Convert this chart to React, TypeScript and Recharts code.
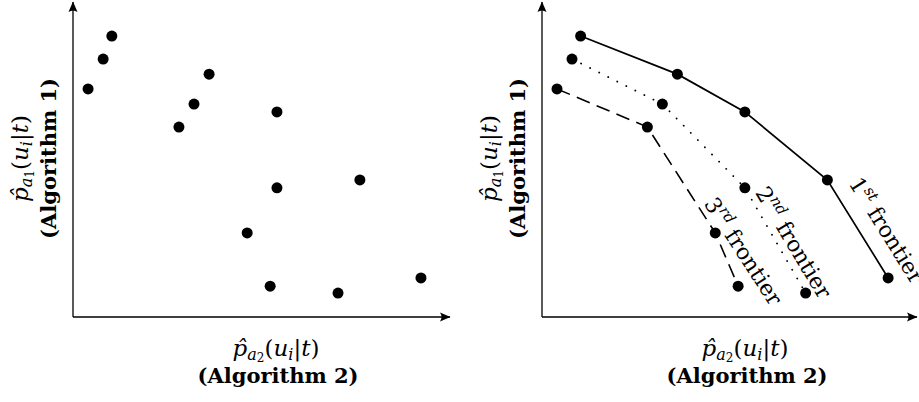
import { Label, LabelList, Scatter, ScatterChart, XAxis, YAxis } from "recharts";

// values, as % of each axis (0,0 = corner of the axes)
const firstFrontier = [
  { x: 10.3, y: 89.2 },
  { x: 36.1, y: 77.1 },
  { x: 54.1, y: 65.1 },
  { x: 76.1, y: 43.5 },
  { x: 92.3, y: 12.4 },
];
const secondFrontier = [
  { x: 8.0, y: 81.9 },
  { x: 32.1, y: 67.6 },
  { x: 54.1, y: 41.0 },
  { x: 70.3, y: 7.6 },
];
const thirdFrontier = [
  { x: 4.0, y: 72.4 },
  { x: 28.1, y: 60.3 },
  { x: 46.2, y: 26.7 },
  { x: 52.3, y: 9.8 },
];
const allPoints = [...firstFrontier, ...secondFrontier, ...thirdFrontier];

const frontierNumbers = ["1", "2", "3"];
const frontierSuffixes = ["st", "nd", "rd"];

const FONT = "'DejaVu Serif', serif";

const dot = (p: any) => <circle cx={p.cx} cy={p.cy} r={5.5} fill="#000" />;

// p̂_{a_k}(u_i|t)
function MathLabel({ k }: { k: string }) {
  return (
    <>
      <tspan fontStyle="italic">{"p\u0302"}</tspan>
      <tspan dy={4} fontSize={16} fontStyle="italic">a</tspan>
      <tspan dy={2} fontSize={12}>{k}</tspan>
      <tspan dy={-6}>(</tspan>
      <tspan fontStyle="italic">u</tspan>
      <tspan dy={4} fontSize={16} fontStyle="italic">i</tspan>
      <tspan dy={-4}>|</tspan>
      <tspan fontStyle="italic">t</tspan>
      <tspan>)</tspan>
    </>
  );
}

function XTitle(props: any) {
  const vb = props.viewBox;
  const cx = vb.x + 203;
  return (
    <g fontFamily={FONT} fill="#000">
      <text x={cx} y={vb.y + 39} textAnchor="middle" fontSize={23}>
        <MathLabel k="2" />
      </text>
      <text x={cx + 2} y={vb.y + 66} textAnchor="middle" fontSize={21} fontWeight="bold">
        (Algorithm 2)
      </text>
    </g>
  );
}

function YTitle(props: any) {
  const vb = props.viewBox;
  const ax = vb.x + vb.width;
  const cy = vb.y + vb.height / 2 - 1;
  return (
    <g fontFamily={FONT} fill="#000">
      <text transform={`translate(${ax - 45},${cy}) rotate(-90)`} textAnchor="middle" fontSize={23}>
        <MathLabel k="1" />
      </text>
      <text transform={`translate(${ax - 17},${cy}) rotate(-90)`} textAnchor="middle" fontSize={21} fontWeight="bold">
        (Algorithm 1)
      </text>
    </g>
  );
}

function frontierLabel(i: number, at: number, angle: number, dx: number, dy: number) {
  return function FrontierLabel(props: any) {
    if (props.index !== at) return null;
    const vb = props.viewBox ?? props;
    const cx = vb.x + (vb.width ?? 0) / 2;
    const cy = vb.y + (vb.height ?? 0) / 2;
    return (
      <text
        transform={`translate(${cx},${cy}) rotate(${angle})`}
        x={dx}
        y={dy}
        fontFamily={FONT}
        fontSize={22}
        fill="#000"
      >
        {frontierNumbers[i]}
        <tspan dy={-9} fontSize={15} fontStyle="italic">
          {frontierSuffixes[i]}
        </tspan>
        <tspan dy={9}> frontier</tspan>
      </text>
    );
  };
}

const axisLine = { stroke: "#000", strokeWidth: 1.3 };

function Axes() {
  return [
    <XAxis
      key="x"
      type="number"
      dataKey="x"
      domain={[0, 100]}
      height={1}
      tick={false}
      tickLine={false}
      axisLine={{ ...axisLine, markerEnd: "url(#axisArrow)" }}
      label={<Label content={XTitle} />}
    />,
    <YAxis
      key="y"
      type="number"
      dataKey="y"
      domain={[0, 100]}
      width={1}
      tick={false}
      tickLine={false}
      axisLine={{ ...axisLine, markerStart: "url(#axisArrow)" }}
      label={<Label content={YTitle} />}
    />,
  ];
}

export default function App() {
  return (
    <div style={{ position: "absolute", left: 0, top: 0, width: 919, height: 402, background: "#fff" }}>
      <svg width={0} height={0} style={{ position: "absolute" }}>
        <defs>
          <marker
            id="axisArrow"
            viewBox="-11 -5 12 10"
            refX={0}
            refY={0}
            markerWidth={12}
            markerHeight={10}
            markerUnits="userSpaceOnUse"
            orient="auto-start-reverse"
          >
            <path d="M0.5,0 L-10,-4.5 Q-7,0 -10,4.5 Z" fill="#000" />
          </marker>
        </defs>
      </svg>

      <div style={{ position: "absolute", left: 0, top: 0 }}>
        <ScatterChart width={460} height={402} margin={{ top: 2, right: 10, bottom: 84, left: 72 }}>
          {Axes()}
          <Scatter data={allPoints} fill="#000" shape={dot} isAnimationActive={false} />
        </ScatterChart>
      </div>

      <div style={{ position: "absolute", left: 460, top: 0 }}>
        <ScatterChart width={459} height={402} margin={{ top: 2, right: 2, bottom: 84, left: 81 }}>
          {Axes()}
          <Scatter
            data={firstFrontier}
            fill="#000"
            shape={dot}
            line={{ stroke: "#000", strokeWidth: 1.7 }}
            isAnimationActive={false}
          >
            <LabelList dataKey="y" content={frontierLabel(0, 3, 58, 14, -16)} />
          </Scatter>
          <Scatter
            data={secondFrontier}
            fill="#000"
            shape={dot}
            line={{ stroke: "#000", strokeWidth: 1.8, strokeDasharray: "0.1 10", strokeLinecap: "round" }}
            isAnimationActive={false}
          >
            <LabelList dataKey="y" content={frontierLabel(1, 2, 59, 9, -6)} />
          </Scatter>
          <Scatter
            data={thirdFrontier}
            fill="#000"
            shape={dot}
            line={{ stroke: "#000", strokeWidth: 1.6, strokeDasharray: "14 7.5" }}
            isAnimationActive={false}
          >
            <LabelList dataKey="y" content={frontierLabel(2, 2, 57, -31, -6)} />
          </Scatter>
        </ScatterChart>
      </div>
    </div>
  );
}
